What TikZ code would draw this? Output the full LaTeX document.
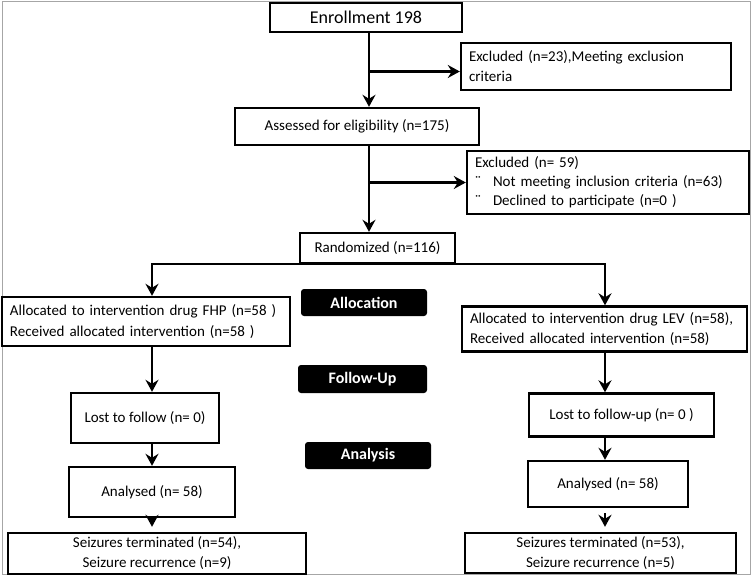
\documentclass[tikz,border=0pt]{standalone}
\usepackage{fontspec}
\setmainfont{Carlito}
\usetikzlibrary{arrows.meta, positioning, calc}

\begin{document}
\begin{tikzpicture}[x=1bp, y=-1bp,
    flowbox/.style={rectangle, draw=black, line width=2.4bp, fill=white, inner sep=0pt, align=center, font=\fontsize{15bp}{20bp}\selectfont},
    leftbox/.style={flowbox, align=left, inner xsep=8bp},
    stagebox/.style={rectangle, rounded corners=3bp, fill=black, text=white, inner sep=0pt, font=\bfseries\fontsize{16bp}{18bp}\selectfont},
    flowarrow/.style={line width=2.4bp, -{Stealth[length=12bp, width=13bp, inset=4bp]}},
    ]
    \useasboundingbox (0,0) rectangle (753,576);
    \draw[gray!70, line width=1bp] (2,2) rectangle (750,574);

    %Nodes
    \node[flowbox, minimum width=192bp, minimum height=29bp, font=\fontsize{18bp}{20bp}\selectfont] (enroll) at (366,17.5) {Enrollment 198};
    \node[leftbox, text width=254bp, minimum height=47bp] (excl23) at (596,66.5) {Excluded (n=23),Meeting exclusion\\criteria};
    \node[flowbox, minimum width=244bp, minimum height=37bp] (assess) at (357,126.5) {Assessed for eligibility (n=175)};
    \node[leftbox, text width=266bp, minimum height=63bp, font=\fontsize{15bp}{19bp}\selectfont] (excl59) at (608,182.5) {Excluded (n= 59)\\\makebox[18bp][l]{¨}Not meeting inclusion criteria (n=63)\\\makebox[18bp][l]{¨}Declined to participate (n=0 )};
    \node[flowbox, minimum width=155bp, minimum height=30bp] (rand) at (377.5,248) {Randomized (n=116)};

    \node[stagebox, minimum width=126bp, minimum height=27bp] (allocation) at (364,302.5) {Allocation};
    \node[stagebox, minimum width=129bp, minimum height=28bp] (followup) at (362.5,379) {Follow-Up};
    \node[stagebox, minimum width=126bp, minimum height=27bp] (analysis) at (368,455.5) {Analysis};

    \node[leftbox, text width=272bp, minimum height=49bp, font=\fontsize{15bp}{21bp}\selectfont] (allocL) at (146,321.5) {Allocated to intervention drug FHP (n=58 )\\Received allocated intervention (n=58 )};
    \node[leftbox, text width=269bp, minimum height=45bp] (allocR) at (604.5,329) {Allocated to intervention drug LEV (n=58),\\Received allocated intervention (n=58)};
    \node[flowbox, minimum width=148bp, minimum height=50bp] (lostL) at (145,418) {Lost to follow (n= 0)};
    \node[flowbox, minimum width=185bp, minimum height=43bp] (lostR) at (621.5,415) {Lost to follow-up (n= 0 )};
    \node[flowbox, minimum width=166bp, minimum height=50bp] (analL) at (152,492) {Analysed (n= 58)};
    \node[flowbox, minimum width=160bp, minimum height=46bp] (analR) at (608,484) {Analysed (n= 58)};
    \node[flowbox, minimum width=298bp, minimum height=41bp] (seizL) at (157,553.5) {Seizures terminated (n=54),\\Seizure recurrence (n=9)};
    \node[flowbox, minimum width=271bp, minimum height=40bp] (seizR) at (600.5,553) {Seizures terminated (n=53),\\Seizure recurrence (n=5)};

    %Lines
    \coordinate (spine) at (369,0);
    \coordinate (colL) at (152,0);
    \coordinate (colR) at (605,0);
    \draw[flowarrow] (enroll.south -| spine) -- (assess.north -| spine);
    \draw[flowarrow] ([yshift=-5bp]excl23.west -| spine) -- ([yshift=-5bp]excl23.west);
    \draw[flowarrow] (assess.south -| spine) -- (rand.north -| spine);
    \draw[flowarrow] (spine |- excl59.west) -- (excl59.west);
    \draw[flowarrow] (rand.south) -| (allocL.north -| colL);
    \draw[flowarrow] (rand.south) -| (allocR.north -| colR);

    \draw[flowarrow] (allocL.south -| colL) -- (lostL.north -| colL);
    \draw[flowarrow] (lostL.south -| colL) -- (analL.north -| colL);
    \draw[flowarrow, shorten >=5bp] (analL.south -| colL) -- (seizL.north -| colL);
    \draw[flowarrow] (allocR.south -| colR) -- (lostR.north -| colR);
    \draw[flowarrow] (lostR.south -| colR) -- (analR.north -| colR);
    \draw[flowarrow, shorten <=5bp, shorten >=5bp] (analR.south -| colR) -- (seizR.north -| colR);
\end{tikzpicture}
\end{document}
